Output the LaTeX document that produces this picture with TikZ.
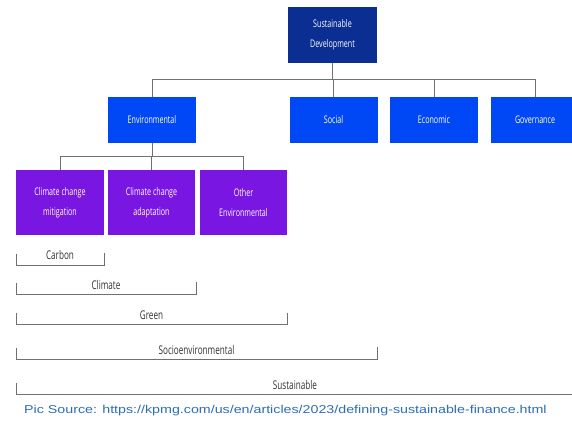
\documentclass[tikz,border=0pt]{standalone}
\usepackage{fontspec}
\setmainfont{Liberation Sans}
\newfontfamily\condfont[FakeStretch=0.68]{Open Sans}
\newfontfamily\srcfont[FakeStretch=1.25]{Liberation Sans}
\definecolor{navybox}{HTML}{0A2E91}
\definecolor{bluebox}{HTML}{0048F5}
\definecolor{purplebox}{HTML}{7A16E2}
\definecolor{linegray}{HTML}{707070}
\definecolor{srcblue}{HTML}{2E6DB8}
\begin{document}
\begin{tikzpicture}[x=1pt,y=-1pt,
  boxbase/.style={rectangle, inner sep=1pt, text=white, align=center,
    font=\condfont\fontsize{10.5}{20}\selectfont},
  topbox/.style={boxbase, fill=navybox, minimum width=89pt, minimum height=56pt},
  midbox/.style={boxbase, fill=bluebox, minimum width=88pt, minimum height=46pt},
  subbox/.style={boxbase, fill=purplebox, minimum width=87pt, minimum height=65pt},
  conn/.style={draw=linegray, line width=0.9pt},
  brk/.style={draw=linegray, line width=0.9pt},
  brklabel/.style={font=\condfont\fontsize{12}{14}\selectfont, text=black!80, inner sep=0pt}]
\useasboundingbox (0,0) rectangle (572,422);
\fill[white] (0,0) rectangle (572,422);

% nodes
\node[topbox] (sd) at (332.5,35) {Sustainable\\Development};
\node[midbox] (env) at (152,120) {Environmental};
\node[midbox] (soc) at (333.5,120) {Social};
\node[midbox] (eco) at (434,120) {Economic};
\node[midbox] (gov) at (535,120) {Governance};
\node[subbox, minimum width=88pt] (ccm) at (60,202.5) {Climate change\\mitigation};
\node[subbox] (cca) at (151.5,202.5) {Climate change\\adaptation};
\node[subbox] (oth) at (243.5,202.5) {Other\\Environmental};

% connectors level 1
\coordinate (bus1) at (332.5,79);
\draw[conn] (sd.south) -- (bus1);
\draw[conn] (env.north) |- (bus1);
\draw[conn] (gov.north) |- (bus1);
\draw[conn] (soc.north) -- (soc.north |- bus1);
\draw[conn] (eco.north) -- (eco.north |- bus1);

% connectors level 2
\coordinate (bus2) at (152,156);
\draw[conn] (env.south) -- (bus2);
\draw[conn] (ccm.north) |- (bus2);
\draw[conn] (oth.north) |- (bus2);
\draw[conn] (cca.north) -- (cca.north |- bus2);

% brackets
\draw[brk] (16,254) -- (16,265) -- (104,265) -- (104,253);
\node[brklabel] (lcarbon) at (60,255) {Carbon};
\draw[brk] (16,283) -- (16,294) -- (196,294) -- (196,282);
\node[brklabel] (lclimate) at (106,285) {Climate};
\draw[brk] (16,313) -- (16,324) -- (287,324) -- (287,313);
\node[brklabel] (lgreen) at (151.5,315) {Green};
\draw[brk] (16,348) -- (16,359) -- (377,359) -- (377,347);
\node[brklabel] (lsocio) at (196.5,350) {Socioenvironmental};
\draw[brk] (16,383) -- (16,394) -- (580,394);
\node[brklabel] (lsust) at (295,385) {Sustainable};

% source
\node[text=srcblue, font=\srcfont\fontsize{11.4}{14}\selectfont, inner sep=0pt, anchor=west] (src) at (24,411) {Pic Source: https://kpmg.com/us/en/articles/2023/defining-sustainable-finance.html};
\end{tikzpicture}
\end{document}
